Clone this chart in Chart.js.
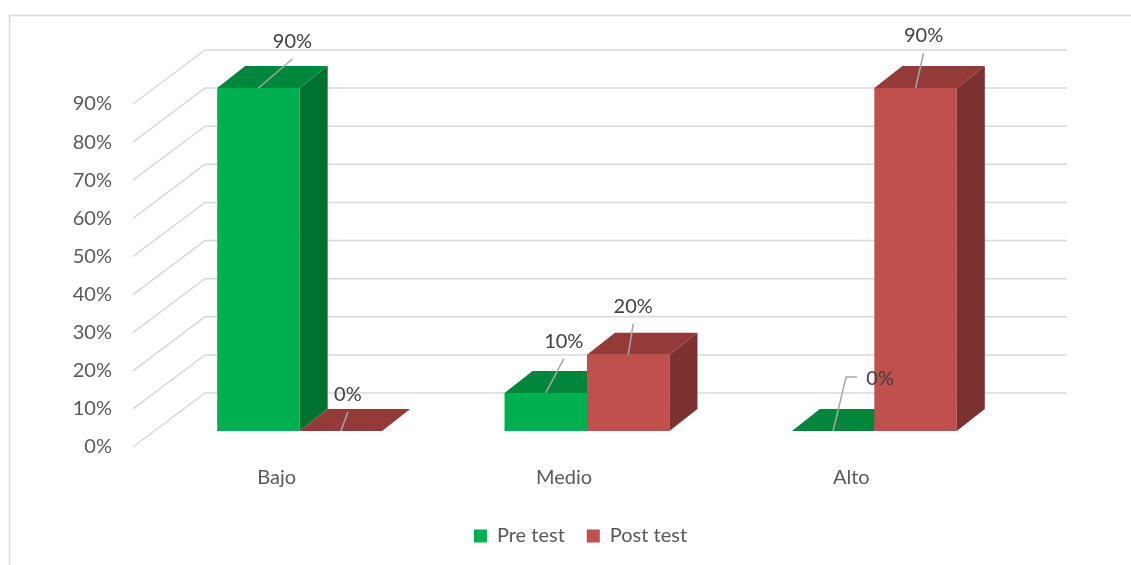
<!DOCTYPE html>
<html>
<head>
<meta charset="utf-8">
<script src="https://cdn.jsdelivr.net/npm/chart.js@4.4.0/dist/chart.umd.min.js"></script>
<style>
  html, body { margin: 0; padding: 0; background: #fff; }
  #wrap { width: 1131px; height: 565px; position: relative; }
</style>
</head>
<body>
<div id="wrap"><canvas id="myChart"></canvas></div>
<script>
// data
const categories = ['Bajo', 'Medio', 'Alto'];
const preTest = [90, 10, 0];
const postTest = [0, 20, 90];
const yTicks = [0, 10, 20, 30, 40, 50, 60, 70, 80, 90];

// 3d look (pixels)
const wallDepth = { dx: 72, dy: -54 };
const barShift = { dx: 23, dy: -16 };
const barDepth = { dx: 28, dy: -22 };
const faces = [
  { front: '#00b050', top: '#00873b', side: '#00722f' },
  { front: '#c0504d', top: '#943a38', side: '#7b3130' }
];
// where each data label sits relative to the top of its bar
const labelOffsets = [
  [{ dx: 34, dy: -46 }, { dx: 18, dy: -51 }, { dx: 47, dy: -52, elbow: true }],
  [{ dx: 7, dy: -36 }, { dx: 5, dy: -48 }, { dx: 8, dy: -52 }]
];
const FONT = 'Lato';

const bars3d = {
  id: 'bars3d',
  beforeDraw(chart) {
    const ctx = chart.ctx;
    ctx.save();
    ctx.strokeStyle = '#d9d9d9';
    ctx.lineWidth = 1.5;
    ctx.strokeRect(9.5, 15.5, 1300, 700);
    ctx.restore();
  },
  beforeDatasetsDraw(chart) {
    const { ctx, chartArea: a } = chart;
    const y = chart.scales.y;
    ctx.save();

    // back wall + side grid
    ctx.strokeStyle = '#d9d9d9';
    ctx.lineWidth = 1.5;
    yTicks.forEach(v => {
      const py = y.getPixelForValue(v);
      ctx.beginPath();
      ctx.moveTo(a.left, py);
      ctx.lineTo(a.left + wallDepth.dx, py + wallDepth.dy);
      ctx.lineTo(a.right + wallDepth.dx, py + wallDepth.dy);
      ctx.stroke();
    });

    function poly(pts, color) {
      ctx.fillStyle = color;
      ctx.beginPath();
      ctx.moveTo(pts[0][0], pts[0][1]);
      for (let k = 1; k < pts.length; k++) ctx.lineTo(pts[k][0], pts[k][1]);
      ctx.closePath();
      ctx.fill();
    }

    const anchors = [];
    chart.data.datasets.forEach((ds, di) => {
      const meta = chart.getDatasetMeta(di);
      const f = faces[di];
      anchors[di] = [];
      meta.data.forEach((bar, i) => {
        const L = bar.x - bar.width / 2 + barShift.dx;
        const R = bar.x + bar.width / 2 + barShift.dx;
        const T = bar.y + barShift.dy;
        const B = bar.base + barShift.dy;
        const dx = barDepth.dx, dy = barDepth.dy;
        if (B - T > 0.5) {
          poly([[L, T], [R, T], [R, B], [L, B]], f.front);
          poly([[R, T], [R + dx, T + dy], [R + dx, B + dy], [R, B]], f.side);
        }
        poly([[L, T], [R, T], [R + dx, T + dy], [L + dx, T + dy]], f.top);
        anchors[di][i] = [(L + R) / 2, T];
      });
    });

    // data labels with leader lines
    ctx.font = '20px ' + FONT;
    ctx.textAlign = 'center';
    ctx.textBaseline = 'middle';
    chart.data.datasets.forEach((ds, di) => {
      ds.data.forEach((v, i) => {
        const [ax, ay] = anchors[di][i];
        const o = labelOffsets[di][i];
        const lx = ax + o.dx, ly = ay + o.dy;
        ctx.strokeStyle = '#a6a6a6';
        ctx.lineWidth = 1.5;
        ctx.beginPath();
        if (o.elbow) {
          ctx.moveTo(lx - 23, ly - 2);
          ctx.lineTo(lx - 34, ly - 2);
          ctx.lineTo(ax, ay);
        } else {
          ctx.moveTo(lx, ly + 17);
          ctx.lineTo(ax, ay);
        }
        ctx.stroke();
        ctx.fillStyle = '#404040';
        ctx.fillText(v + '%', lx, ly);
      });
    });

    ctx.restore();
    return false;
  }
};

const ctx = document.getElementById('myChart').getContext('2d');

const chartsData = {
  type: 'bar',
  data: {
    labels: categories,
    datasets: [{
      label: 'Pre test',
      data: preTest,
      backgroundColor: faces[0].front,
      categoryPercentage: 0.574,
      barPercentage: 1
    }, {
      label: 'Post test',
      data: postTest,
      backgroundColor: faces[1].front,
      categoryPercentage: 0.574,
      barPercentage: 1
    }]
  },
  options: {
    responsive: true,
    maintainAspectRatio: false,
    animation: false,
    layout: { padding: { left: 30, right: 0, top: 104, bottom: 9 } },
    scales: {
      x: {
        grid: { display: false, drawTicks: false },
        border: { display: false },
        ticks: { color: '#595959', font: { family: FONT, size: 20 }, padding: 19 },
        afterFit(scale) { scale.height = 57; }
      },
      y: {
        position: 'left',
        min: 0,
        max: 90,
        grid: { display: false, drawTicks: false },
        border: { display: false },
        ticks: {
          color: '#595959',
          font: { family: FONT, size: 20 },
          padding: 21,
          callback: v => v + '%'
        },
        afterBuildTicks(scale) { scale.ticks = yTicks.map(v => ({ value: v })); },
        afterFit(scale) { scale.width = 103; }
      },
      y2: {
        position: 'right',
        grid: { display: false, drawTicks: false },
        border: { display: false },
        ticks: { display: false },
        afterFit(scale) { scale.width = 136; }
      }
    },
    plugins: {
      legend: {
        position: 'bottom',
        labels: {
          boxWidth: 13,
          boxHeight: 13,
          padding: 22,
          color: '#595959',
          font: { family: FONT, size: 20 }
        }
      },
      tooltip: { enabled: false }
    }
  },
  plugins: [bars3d]
};

const myChart = new Chart(ctx, chartsData);
</script>
</body>
</html>
